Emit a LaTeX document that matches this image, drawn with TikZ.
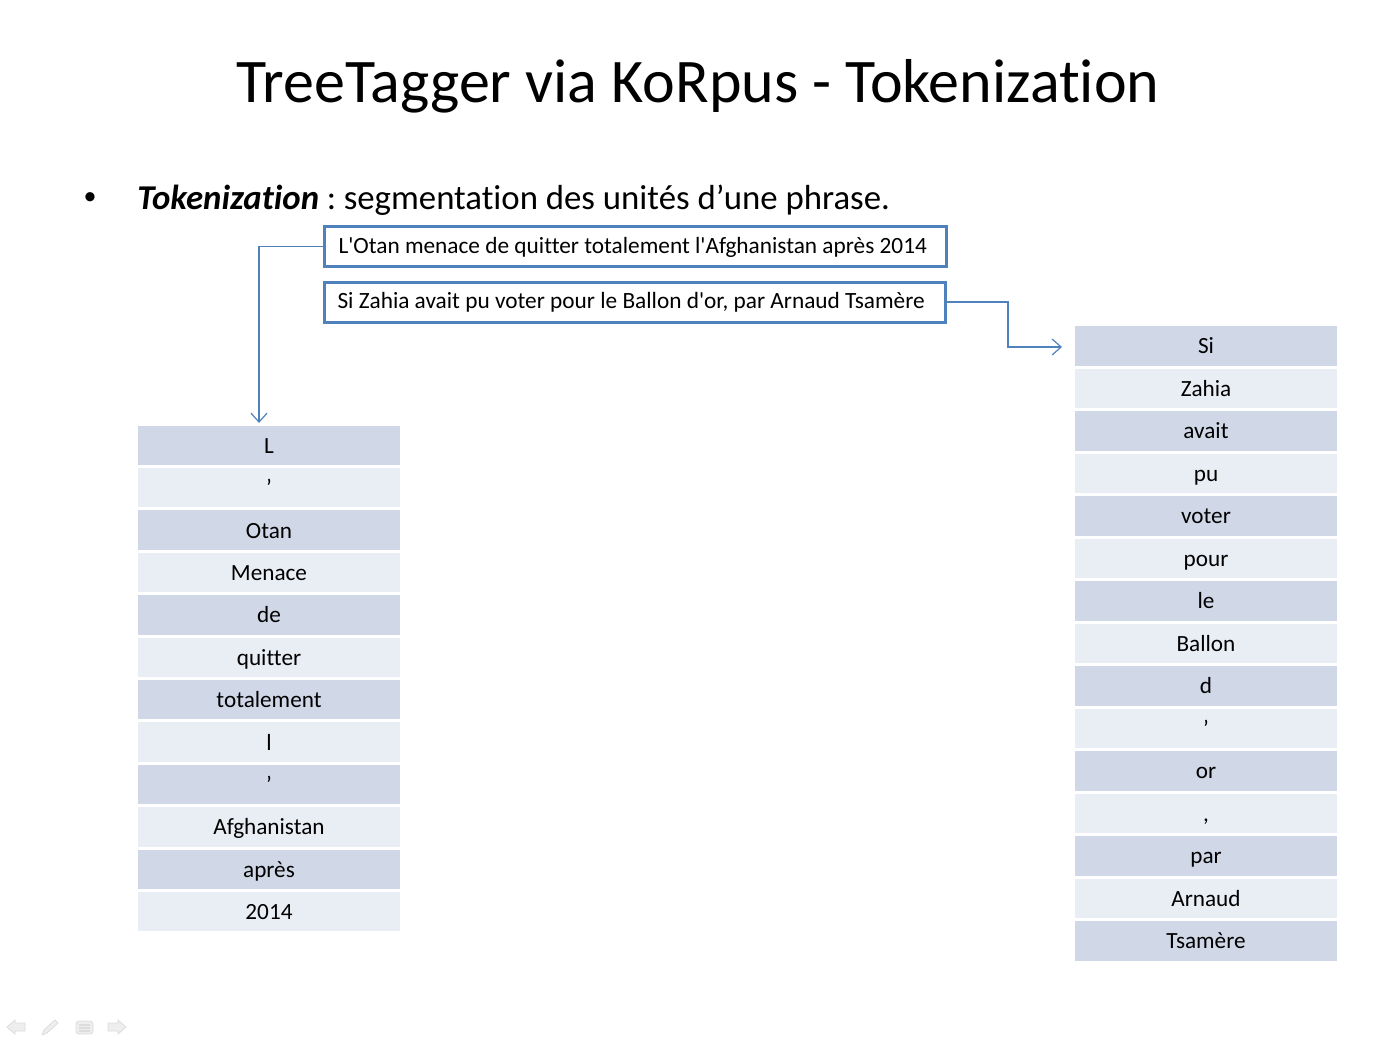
\documentclass[tikz,border=0pt]{standalone}
\usepackage{fontspec}
\setmainfont{Carlito}[Ligatures={NoCommon}]
\usetikzlibrary{arrows.meta}
\definecolor{accent}{HTML}{4F81BD}
\definecolor{rowdark}{HTML}{D0D8E8}
\definecolor{rowlight}{HTML}{E9EDF4}
\definecolor{navfill}{HTML}{EEEEEE}
\definecolor{navline}{HTML}{DCDCDC}
\newcommand{\lefttext}[1]{\makebox[297pt][l]{#1}}
\begin{document}
\begin{tikzpicture}[x=0.5pt,y=-0.5pt,
  cell/.style={minimum width=131pt, minimum height=19.75pt, inner sep=0pt,
    text height=10pt, text depth=2pt, font=\fontsize{11.6}{14}\selectfont},
  dark/.style={cell, fill=rowdark},
  light/.style={cell, fill=rowlight},
  sentbox/.style={draw=accent, line width=1.5pt, fill=white, minimum width=311pt,
    minimum height=20pt, inner xsep=6.75pt, inner ysep=0pt,
    text height=9pt, text depth=2.5pt, font=\fontsize{11.65}{14}\selectfont},
  conn/.style={draw=accent, line width=0.6pt, -{Straight Barb[length=4.5pt,width=8pt]}},
  nav/.style={fill=navfill, draw=navline, line width=0.4pt}
]
\useasboundingbox (0,0) rectangle (1396,1048);

% title
\node[anchor=base, font=\fontsize{31}{36}\selectfont] (title) at (698,103)
  {TreeTagger via KoRpus - Tokenization};

% bullet line
\node[font=\fontsize{13}{15}\selectfont, inner sep=0pt] (bullet) at (90,199) {•};
\node[anchor=base west, inner sep=0pt, font=\fontsize{17.4}{20}\selectfont] (intro) at (137,210)
  {\textbf{\textit{Tokenization}} :\hspace{-1.5pt} segmentation des unités d’une phrase.};

% sentence boxes
\node[sentbox] (b1) at (635.5,246.5)
  {\lefttext{L\textquotesingle Otan menace de quitter totalement l\textquotesingle Afghanistan après 2014}};
\node[sentbox, minimum width=310pt] (b2) at (634.5,302)
  {\lefttext{Si Zahia avait pu voter pour le Ballon d\textquotesingle or, par Arnaud Tsamère}};

% left token table
\foreach \w [count=\i from 0] in {L,’,Otan,Menace,de,quitter,totalement,l,’,Afghanistan,après,2014}{
  \pgfmathtruncatemacro{\parity}{mod(\i,2)}
  \ifnum\parity=0
    \node[dark] (l\i) at (269,{445.25+42.4*\i}) {\w};
  \else
    \node[light] (l\i) at (269,{445.25+42.4*\i}) {\w};
  \fi
}

% right token table
\foreach \w [count=\i from 0] in {Si,Zahia,avait,pu,voter,pour,le,Ballon,d,’,or,{,},par,Arnaud,Tsamère}{
  \pgfmathtruncatemacro{\parity}{mod(\i,2)}
  \ifnum\parity=0
    \node[dark] (r\i) at (1206,{345.75+42.5*\i}) {\w};
  \else
    \node[light] (r\i) at (1206,{345.75+42.5*\i}) {\w};
  \fi
}

% connectors
\coordinate (la) at (259,423);
\coordinate (rc) at (1008,347);
\coordinate (ra) at (1062,347);
\draw[conn] (b1.west) -| (la);
\draw[conn] (b2.east) -| (rc) -- (ra);

% faint slide navigation icons
\draw[nav] (7,1027) -- (15,1020) -- (15,1023) -- (25,1023) -- (25,1031) -- (15,1031) -- (15,1034) -- cycle;
\draw[nav] (42,1035) -- (44,1030) -- (55,1020) -- (58,1023) -- (47,1033) -- cycle;
\draw[nav, rounded corners=1.5] (76,1021) rectangle (93,1034);
\draw[navline, line width=0.6pt] (79,1025) -- (90,1025) (79,1028) -- (90,1028) (79,1031) -- (90,1031);
\draw[nav] (126,1027) -- (118,1020) -- (118,1023) -- (108,1023) -- (108,1031) -- (118,1031) -- (118,1034) -- cycle;
\end{tikzpicture}
\end{document}
